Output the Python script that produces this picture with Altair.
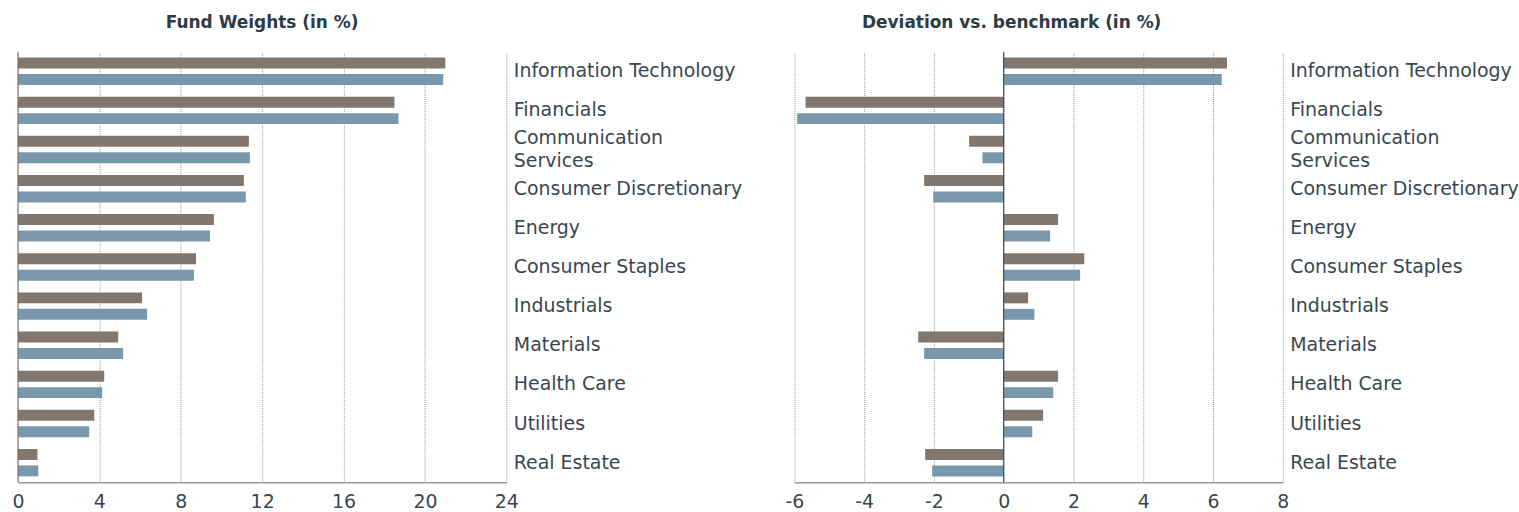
import altair as alt
import pandas as pd

categories = [
    "Information Technology", "Financials", "Communication Services",
    "Consumer Discretionary", "Energy", "Consumer Staples", "Industrials",
    "Materials", "Health Care", "Utilities", "Real Estate",
]
series = ["Share class 1", "Share class 2"]

weights_class1 = [21.0, 18.5, 11.35, 11.1, 9.63, 8.75, 6.1, 4.93, 4.24, 3.75, 0.96]
weights_class2 = [20.9, 18.7, 11.4, 11.2, 9.44, 8.65, 6.35, 5.17, 4.14, 3.5, 1.0]

deviation_class1 = [6.40, -5.68, -0.99, -2.28, 1.56, 2.31, 0.70, -2.45, 1.56, 1.13, -2.25]
deviation_class2 = [6.25, -5.92, -0.61, -2.02, 1.33, 2.19, 0.88, -2.28, 1.42, 0.82, -2.05]

left_ticks = [0, 4, 8, 12, 16, 20, 24]
right_ticks = [-6, -4, -2, 0, 2, 4, 6, 8]

colors = ["#82776E", "#7A98AC"]
FONT = "DejaVu Sans"
LABEL_COLOR = "#3a4651"


def long_table(v1, v2):
    rows = []
    for c, a, b in zip(categories, v1, v2):
        rows.append({"category": c, "series": series[0], "value": a})
        rows.append({"category": c, "series": series[1], "value": b})
    return pd.DataFrame(rows)


label_expr = ("datum.label == 'Communication Services' ? "
              "['Communication', 'Services'] : datum.label")
label_offset = {
    "condition": {"test": "datum.value == 'Communication Services'", "value": -11.3},
    "value": 0,
}


def panel(df, domain, ticks, title, title_dx, zero_color):
    base = alt.Chart(df)
    bars = base.mark_bar().encode(
        x=alt.X(
            "value:Q",
            scale=alt.Scale(domain=domain, nice=False, zero=False),
            axis=alt.Axis(
                values=ticks, title=None, grid=True, gridColor="#9a9a9a",
                gridDash=[1, 1], gridWidth=1, ticks=False, domain=True,
                domainColor="#9a9a9a", domainWidth=1.5, labelFontSize=19,
                labelColor=LABEL_COLOR, labelPadding=10, labelFont=FONT,
                labelExpr="'' + datum.value", labelFlush=False,
            ),
        ),
        y=alt.Y(
            "category:N", sort=categories,
            scale=alt.Scale(paddingInner=0.3, paddingOuter=0.15),
            axis=alt.Axis(
                orient="right", title=None, domain=False, ticks=False,
                grid=False, labelAlign="left", labelBaseline="middle",
                labelPadding=7, labelFontSize=19, labelFont=FONT,
                labelColor=LABEL_COLOR, labelLimit=400, labelLineHeight=22.6,
                labelExpr=label_expr, labelOffset=label_offset,
            ),
        ),
        yOffset=alt.YOffset(
            "series:N", sort=series,
            scale=alt.Scale(paddingInner=0.333, paddingOuter=0),
        ),
        color=alt.Color("series:N", sort=series,
                        scale=alt.Scale(domain=series, range=colors),
                        legend=None),
    )
    zero = alt.Chart(pd.DataFrame({"zero": [0]})).mark_rule(
        color=zero_color, strokeWidth=1
    ).encode(x="zero:Q")
    return alt.layer(bars, zero).properties(
        width=490, height=432,
        title=alt.TitleParams(
            title, fontSize=17, font=FONT, fontWeight="bold",
            color="#2e3b47", anchor="middle", offset=19, dx=title_dx,
        ),
    )


left = panel(long_table(weights_class1, weights_class2), [0, 24], left_ticks,
             "Fund Weights (in %)", 0, "#6f6f6f")
right = panel(long_table(deviation_class1, deviation_class2), [-6, 8], right_ticks,
              "Deviation vs. benchmark (in %)", -27, "#2b3844")

chart = alt.hconcat(left, right, spacing=42).properties(
    padding={"left": 11, "top": 13, "right": 0, "bottom": 0}
).configure(font=FONT).configure_view(stroke="transparent", strokeWidth=0)

chart.save("out.html", embed_options={"renderer": "svg", "actions": False})
